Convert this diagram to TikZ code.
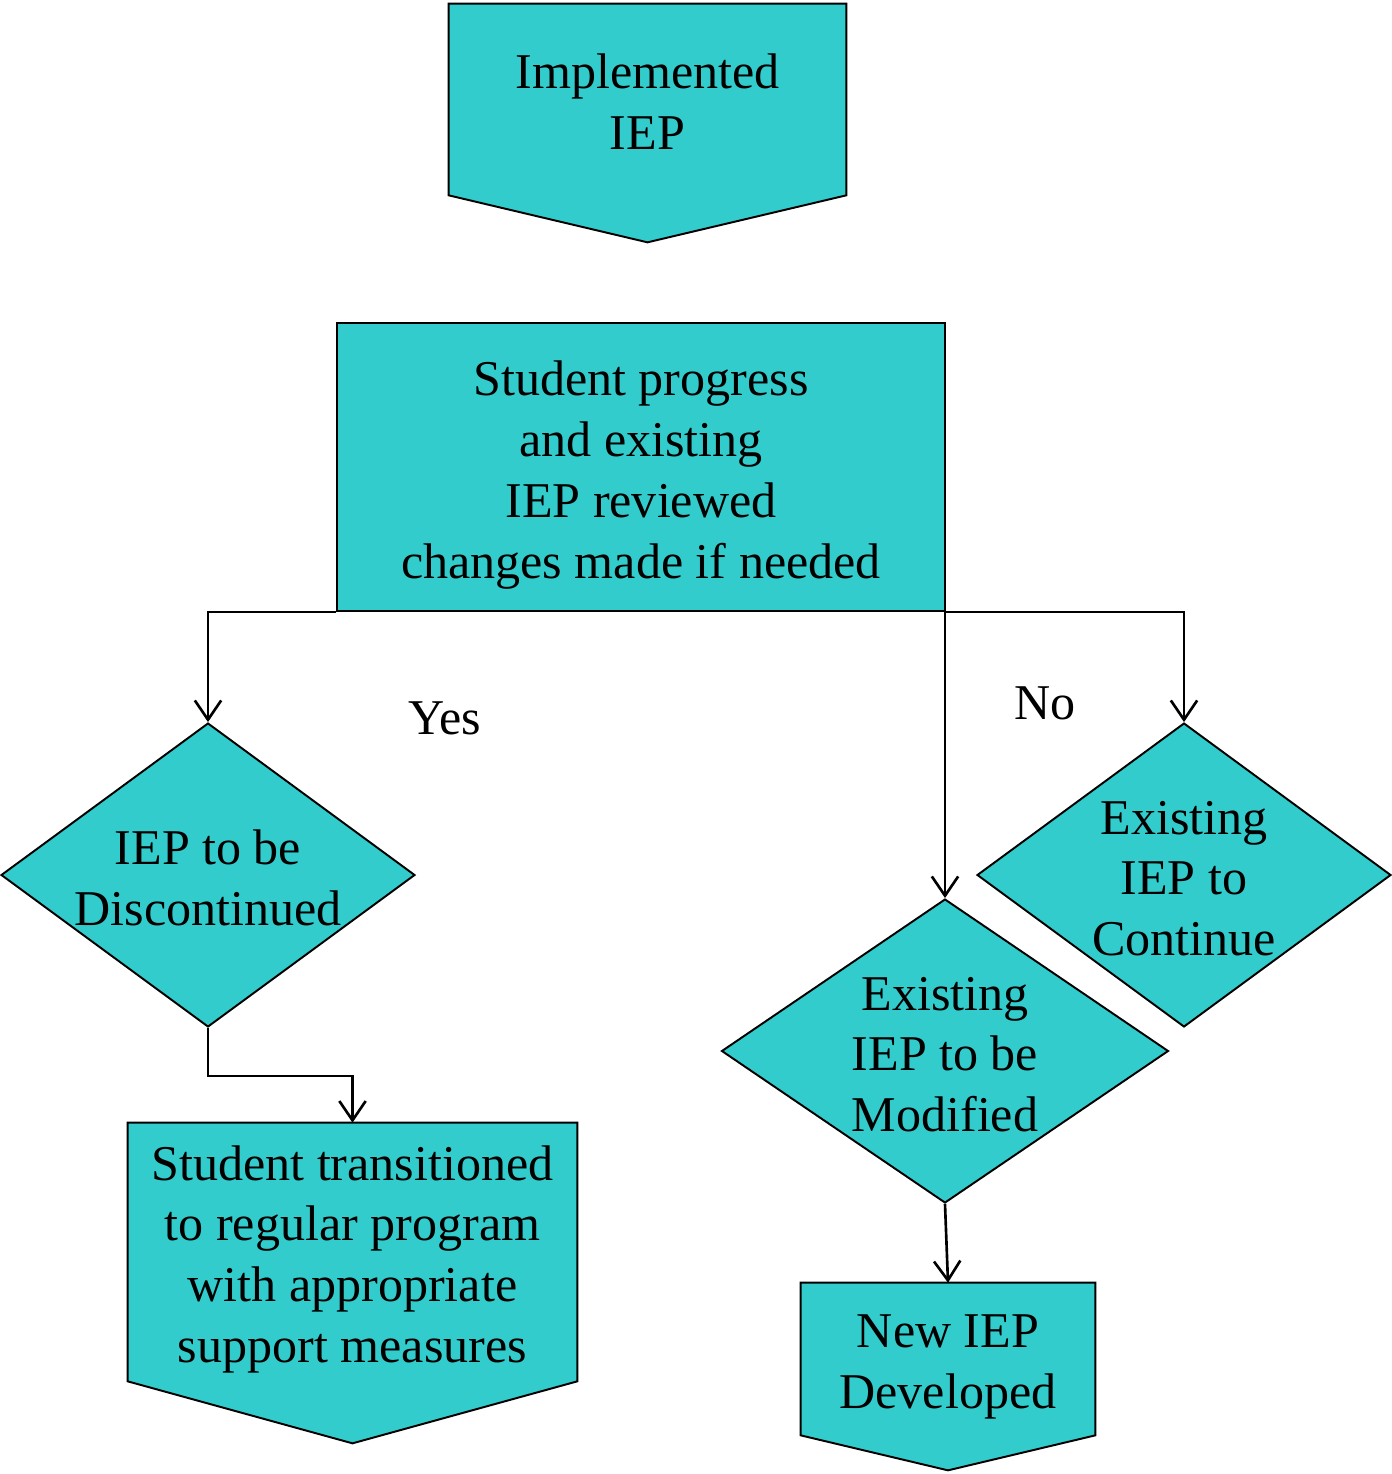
\documentclass[tikz,border=0pt]{standalone}
\usepackage{fontspec}
\setmainfont{Liberation Serif}
\usetikzlibrary{
  arrows.meta,
  positioning,
  shapes.geometric,
  calc,
  backgrounds
}
\definecolor{iepfill}{RGB}{51,204,204}
\newcommand{\padtop}[1]{\rule{0pt}{#1}}

\begin{document}
\begin{tikzpicture}[x=0.02cm, y=-0.02cm, font=\fontsize{28.5}{34.6}\selectfont]

  \useasboundingbox (0,0) rectangle (1392,1474);

  \tikzset{
    tbox/.style={inner sep=0pt, align=center},
    fbox/.style={draw, line width=1.1pt, fill=iepfill, inner sep=0pt, align=center},
    dec/.style={
      draw, diamond, line width=1.1pt, fill=iepfill, inner sep=-0.6cm,
      minimum height=6.08cm, align=center
    },
    arr/.style={-{Straight Barb[length=11pt, width=15pt]}, line width=1.5pt}
  }

  % ---- Top: start and review ----
  \node[tbox, minimum width=7.94cm, minimum height=3.82cm] (impl) at (647.5, 99.5)
    {\padtop{22pt}Implemented\\IEP};
  \node[fbox, minimum width=12.16cm, minimum height=5.76cm] (review) at (641, 467)
    {\padtop{29pt}Student progress\\and existing\\IEP reviewed\\changes made if needed};

  % ---- Decisions ----
  \node[dec, minimum width=8.28cm] (disc) at (208, 875)
    {\padtop{23pt}IEP to be\\Discontinued};
  \node[dec, minimum width=8.28cm] (cont) at (1184, 875)
    {\padtop{23pt}Existing\\IEP to\\Continue};
  \node[dec, minimum width=8.94cm] (modif) at (945, 1051)
    {\padtop{23pt}Existing\\IEP to be\\Modified};

  % ---- Outcomes ----
  \node[tbox, minimum width=8.98cm, minimum height=5.16cm] (trans) at (352.5, 1252)
    {\padtop{28pt}Student transitioned\\to regular program\\with appropriate\\support measures};
  \node[tbox, minimum width=5.88cm, minimum height=3.04cm] (newiep) at (948, 1359)
    {\padtop{28pt}New IEP\\Developed};

  % pentagon outlines behind the text nodes
  \begin{scope}[on background layer]
    \foreach \n/\d in {impl/47, trans/62, newiep/35}
      \draw[line width=1.1pt, fill=iepfill]
        (\n.north west) -- (\n.north east) -- (\n.south east)
        -- ($(\n.south)+(0,\d)$) -- (\n.south west) -- cycle;
  \end{scope}

  % ---- Labels ----
  \node (yes) at (445, 718) {Yes};
  \node (no) at (1045, 703) {No};

  % ---- Connectors ----
  \coordinate (fork) at (945, 578);
  \draw[arr] (review.south west) -| (disc.north);
  \draw[arr] (review.south east) -| (cont.north);
  \draw[arr] (fork) -- (modif.north);
  \draw[arr] (disc.south) -- ++(0, 48) -| (trans.north);
  \draw[arr] (modif.south) -- (newiep.north);

\end{tikzpicture}
\end{document}
